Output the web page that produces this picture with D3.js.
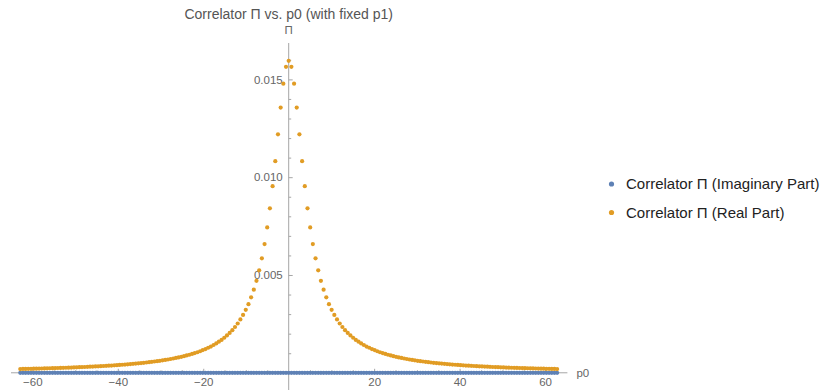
<!DOCTYPE html>
<html>
<head>
<meta charset="utf-8">
<script src="https://cdn.jsdelivr.net/npm/d3@7"></script>
<style>
  body { margin: 0; background: #fff; }
  svg { display: block; font-family: "Liberation Sans", Arial, sans-serif; }
</style>
</head>
<body>
<div id="chart"></div>
<script>
// p0 grid (step pi/5)
const p0 = [
  -62.83, -62.20, -61.58, -60.95, -60.32, -59.69, -59.06, -58.43, -57.81, -57.18,
  -56.55, -55.92, -55.29, -54.66, -54.04, -53.41, -52.78, -52.15, -51.52, -50.89,
  -50.27, -49.64, -49.01, -48.38, -47.75, -47.12, -46.50, -45.87, -45.24, -44.61,
  -43.98, -43.35, -42.73, -42.10, -41.47, -40.84, -40.21, -39.58, -38.96, -38.33,
  -37.70, -37.07, -36.44, -35.81, -35.19, -34.56, -33.93, -33.30, -32.67, -32.04,
  -31.42, -30.79, -30.16, -29.53, -28.90, -28.27, -27.65, -27.02, -26.39, -25.76,
  -25.13, -24.50, -23.88, -23.25, -22.62, -21.99, -21.36, -20.73, -20.11, -19.48,
  -18.85, -18.22, -17.59, -16.96, -16.34, -15.71, -15.08, -14.45, -13.82, -13.19,
  -12.57, -11.94, -11.31, -10.68, -10.05, -9.42, -8.80, -8.17, -7.54, -6.91,
  -6.28, -5.65, -5.03, -4.40, -3.77, -3.14, -2.51, -1.88, -1.26, -0.63,
  0,
  0.63, 1.26, 1.88, 2.51, 3.14, 3.77, 4.40, 5.03, 5.65, 6.28,
  6.91, 7.54, 8.17, 8.80, 9.42, 10.05, 10.68, 11.31, 11.94, 12.57,
  13.19, 13.82, 14.45, 15.08, 15.71, 16.34, 16.96, 17.59, 18.22, 18.85,
  19.48, 20.11, 20.73, 21.36, 21.99, 22.62, 23.25, 23.88, 24.50, 25.13,
  25.76, 26.39, 27.02, 27.65, 28.27, 28.90, 29.53, 30.16, 30.79, 31.42,
  32.04, 32.67, 33.30, 33.93, 34.56, 35.19, 35.81, 36.44, 37.07, 37.70,
  38.33, 38.96, 39.58, 40.21, 40.84, 41.47, 42.10, 42.73, 43.35, 43.98,
  44.61, 45.24, 45.87, 46.50, 47.12, 47.75, 48.38, 49.01, 49.64, 50.27,
  50.89, 51.52, 52.15, 52.78, 53.41, 54.04, 54.66, 55.29, 55.92, 56.55,
  57.18, 57.81, 58.43, 59.06, 59.69, 60.32, 60.95, 61.58, 62.20, 62.83
];

const imagPart = [
  0,0,0,0,0,0,0,0,0,0,0,0,0,0,0,0,0,0,0,0,
  0,0,0,0,0,0,0,0,0,0,0,0,0,0,0,0,0,0,0,0,
  0,0,0,0,0,0,0,0,0,0,0,0,0,0,0,0,0,0,0,0,
  0,0,0,0,0,0,0,0,0,0,0,0,0,0,0,0,0,0,0,0,
  0,0,0,0,0,0,0,0,0,0,0,0,0,0,0,0,0,0,0,0,
  0,
  0,0,0,0,0,0,0,0,0,0,0,0,0,0,0,0,0,0,0,0,
  0,0,0,0,0,0,0,0,0,0,0,0,0,0,0,0,0,0,0,0,
  0,0,0,0,0,0,0,0,0,0,0,0,0,0,0,0,0,0,0,0,
  0,0,0,0,0,0,0,0,0,0,0,0,0,0,0,0,0,0,0,0,
  0,0,0,0,0,0,0,0,0,0,0,0,0,0,0,0,0,0,0,0
];

const realPart = [
  0.000192, 0.000195, 0.000198, 0.000201, 0.000205, 0.000208, 0.000212, 0.000215, 0.000219, 0.000223,
  0.000227, 0.000231, 0.000235, 0.000240, 0.000244, 0.000249, 0.000253, 0.000258, 0.000263, 0.000268,
  0.000274, 0.000279, 0.000285, 0.000291, 0.000297, 0.000303, 0.000310, 0.000317, 0.000324, 0.000331,
  0.000338, 0.000346, 0.000354, 0.000363, 0.000371, 0.000381, 0.000390, 0.000400, 0.000410, 0.000421,
  0.000432, 0.000444, 0.000456, 0.000469, 0.000482, 0.000496, 0.000510, 0.000526, 0.000542, 0.000558,
  0.000576, 0.000595, 0.000614, 0.000635, 0.000657, 0.000680, 0.000704, 0.000730, 0.000758, 0.000787,
  0.000818, 0.000850, 0.000886, 0.000923, 0.000963, 0.00101, 0.00105, 0.00110, 0.00116, 0.00121,
  0.00128, 0.00134, 0.00142, 0.00150, 0.00159, 0.00168, 0.00179, 0.00191, 0.00204, 0.00218,
  0.00234, 0.00252, 0.00273, 0.00296, 0.00322, 0.00351, 0.00386, 0.00425, 0.00470, 0.00524,
  0.00585, 0.00658, 0.00743, 0.00841, 0.00954, 0.01082, 0.01219, 0.01356, 0.01478, 0.01564,
  0.01595,
  0.01564, 0.01478, 0.01356, 0.01219, 0.01082, 0.00954, 0.00841, 0.00743, 0.00658, 0.00585,
  0.00524, 0.00470, 0.00425, 0.00386, 0.00351, 0.00322, 0.00296, 0.00273, 0.00252, 0.00234,
  0.00218, 0.00204, 0.00191, 0.00179, 0.00168, 0.00159, 0.00150, 0.00142, 0.00134, 0.00128,
  0.00121, 0.00116, 0.00110, 0.00105, 0.00101, 0.000963, 0.000923, 0.000886, 0.000850, 0.000818,
  0.000787, 0.000758, 0.000730, 0.000704, 0.000680, 0.000657, 0.000635, 0.000614, 0.000595, 0.000576,
  0.000558, 0.000542, 0.000526, 0.000510, 0.000496, 0.000482, 0.000469, 0.000456, 0.000444, 0.000432,
  0.000421, 0.000410, 0.000400, 0.000390, 0.000381, 0.000371, 0.000363, 0.000354, 0.000346, 0.000338,
  0.000331, 0.000324, 0.000317, 0.000310, 0.000303, 0.000297, 0.000291, 0.000285, 0.000279, 0.000274,
  0.000268, 0.000263, 0.000258, 0.000253, 0.000249, 0.000244, 0.000240, 0.000235, 0.000231, 0.000227,
  0.000223, 0.000219, 0.000215, 0.000212, 0.000208, 0.000205, 0.000201, 0.000198, 0.000195, 0.000192
];

const xMajorTicks = [-60, -40, -20, 20, 40, 60];
const xMinorTicks = [-55, -50, -45, -35, -30, -25, -15, -10, -5, 5, 10, 15, 25, 30, 35, 45, 50, 55];
const yMajorTicks = [0.005, 0.010, 0.015];
const yMinorTicks = [0.001, 0.002, 0.003, 0.004, 0.006, 0.007, 0.008, 0.009, 0.011, 0.012, 0.013, 0.014, 0.016];

const seriesNames = ["Correlator \u03a0 (Imaginary Part)", "Correlator \u03a0 (Real Part)"];
const seriesColors = ["#5e81b5", "#e19c24"];

const width = 828, height = 390;
const axisColor = "#a6a6a6";
const labelColor = "#666";

let svg = d3.select("#chart")
  .append("svg")
  .attr("width", width)
  .attr("height", height);

// scales
let xScale = d3.scaleLinear()
  .domain([-65, 65])
  .range([11, 566.4]);

let yScale = d3.scaleLinear()
  .domain([-0.00088, 0.01686])
  .range([390, 43]);

let x0 = xScale(0), y0 = yScale(0);

// x axis (ticks pointing up)
let xAxis = d3.axisBottom(xScale)
  .tickValues(xMajorTicks)
  .tickSize(-4)
  .tickPadding(5.5)
  .tickFormat(d3.format("d"));

let gx = svg.append("g")
  .attr("transform", "translate(0," + y0 + ")")
  .call(xAxis);

let xMinor = d3.axisBottom(xScale)
  .tickValues(xMinorTicks)
  .tickSize(-2.5)
  .tickFormat("");

let gxm = svg.append("g")
  .attr("transform", "translate(0," + y0 + ")")
  .call(xMinor);

// y axis (ticks pointing right)
let yAxis = d3.axisLeft(yScale)
  .tickValues(yMajorTicks)
  .tickSize(-4)
  .tickPadding(6)
  .tickFormat(d3.format(".3f"));

let gy = svg.append("g")
  .attr("transform", "translate(" + x0 + ",0)")
  .call(yAxis);

let yMinor = d3.axisLeft(yScale)
  .tickValues(yMinorTicks)
  .tickSize(-2.5)
  .tickFormat("");

let gym = svg.append("g")
  .attr("transform", "translate(" + x0 + ",0)")
  .call(yMinor);

[gx, gxm, gy, gym].forEach(function(g) {
  g.select(".domain").remove();
  g.selectAll(".tick line").attr("stroke", axisColor);
  g.selectAll(".tick text")
    .attr("fill", labelColor)
    .style("font-size", "11.5px")
    .style("font-family", "'Liberation Sans', Arial, sans-serif");
});

// axis lines
svg.append("line")
  .attr("x1", xScale(-65)).attr("x2", xScale(65) + 1)
  .attr("y1", y0).attr("y2", y0)
  .attr("stroke", axisColor);

svg.append("line")
  .attr("x1", x0).attr("x2", x0)
  .attr("y1", yScale(0.01686)).attr("y2", height)
  .attr("stroke", axisColor);

// axis labels
svg.append("text")
  .attr("x", xScale(65) + 10)
  .attr("y", y0 + 4)
  .attr("fill", labelColor)
  .style("font-size", "11.5px")
  .text("p0");

svg.append("text")
  .attr("x", x0)
  .attr("y", 34)
  .attr("text-anchor", "middle")
  .attr("fill", labelColor)
  .style("font-size", "11.5px")
  .text("\u03a0");

// title
svg.append("text")
  .attr("x", x0)
  .attr("y", 19.3)
  .attr("text-anchor", "middle")
  .attr("fill", "#555")
  .style("font-size", "14px")
  .text("Correlator \u03a0 vs. p0 (with fixed p1)");

// points
let series = [imagPart, realPart];
series.forEach(function(vals, s) {
  svg.append("g")
    .selectAll("circle")
    .data(vals)
    .enter().append("circle")
    .attr("cx", function(d, i) { return xScale(p0[i]); })
    .attr("cy", function(d) { return yScale(d); })
    .attr("r", 2.1)
    .attr("fill", seriesColors[s]);
});

// legend
let legend = svg.append("g")
  .attr("transform", "translate(611.5,184)");

let rows = legend.selectAll("g")
  .data(seriesNames)
  .enter().append("g")
  .attr("transform", function(d, i) { return "translate(0," + (i * 28.5) + ")"; });

rows.append("circle")
  .attr("r", 2.6)
  .attr("fill", function(d, i) { return seriesColors[i]; });

rows.append("text")
  .attr("x", 14.5)
  .attr("dy", "0.36em")
  .attr("fill", "#222")
  .style("font-size", "15px")
  .text(function(d) { return d; });
</script>
</body>
</html>
